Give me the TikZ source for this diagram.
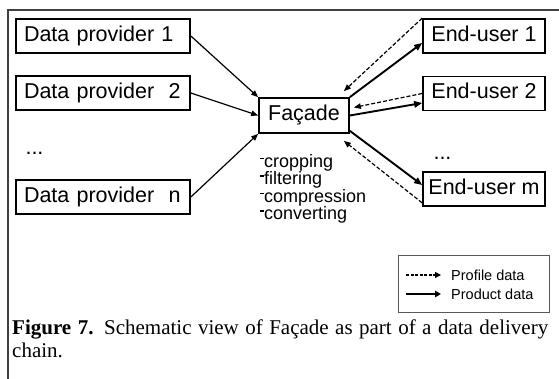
\documentclass[tikz,border=0pt]{standalone}
\usepackage{fontspec}
\setmainfont{Liberation Sans}
\newfontfamily\capfont{Liberation Serif}
\usetikzlibrary{arrows.meta,calc}

% short raised dash used in front of each operation
\newcommand\opdash{\rule[0.45em]{0.22em}{0.08em}}

\tikzset{
  box/.style={draw, line width=1.7pt, minimum height=34pt,
              text height=15.4pt, text depth=4.5pt,
              inner ysep=0pt, font=\fontsize{21.5}{24}\selectfont},
  provbox/.style={box, align=left, inner xsep=8pt, text width=158pt},
  userbox/.style={box, inner xsep=0pt, minimum width=122pt},
  feed/.style={line width=1.2pt, -{Triangle[length=7pt,width=5.5pt]}},
  product/.style={line width=1.9pt, -{Triangle[length=8pt,width=6.5pt]}},
  profile/.style={line width=1.2pt, dash pattern=on 4pt off 2pt,
                  -{Triangle[length=7pt,width=5.5pt]}},
  frameline/.style={draw=black!75, line width=1.5pt},
}

\begin{document}
\begin{tikzpicture}[x=1pt,y=-1pt]
\useasboundingbox (0,0) rectangle (559,379);

% outer frame (top and left edges only)
\draw[frameline] (559,10) -- (8,10) -- (8,379);

% data providers
\node[provbox] (dp1) at (103,36) {Data provider 1};
\node[provbox] (dp2) at (103,93) {Data provider\ \ 2};
\node[anchor=base west, font=\fontsize{21.5}{24}\selectfont] (dpdots) at (22,155) {...};
\node[provbox] (dpn) at (103,197) {Data provider\ \ n};

% facade
\node[box, minimum width=90pt, minimum height=35pt] (fac) at (304,115.5) {Façade};
\node[anchor=north west, align=left, inner sep=0pt,
      font=\fontsize{18}{17.5}\selectfont] (ops) at (260,154)
  {\opdash cropping\\\opdash filtering\\\opdash compression\\\opdash converting};

% end users
\node[userbox] (eu1) at (484,36) {End-user 1};
\node[userbox] (eu2) at (484,93.5) {End-user 2};
\node[anchor=base west, font=\fontsize{21.5}{24}\selectfont] (eudots) at (430,160) {...};
\node[userbox] (eum) at (484,189) {End-user m};

% providers feed the facade
\draw[feed] (dp1.east) -- (fac.north west);
\draw[feed] (dp2.east) -- (fac.west);
\draw[feed] (dpn.east) -- (fac.south west);

% product data out to the end users
\draw[product] (fac.north east) -- ($(eu1.west)+(0,7)$);
\draw[product] (fac.east) -- ($(eu2.west)+(0,9.5)$);
\draw[product] ($(fac.south east)+(0,-3)$) -- ($(eum.west)+(0,-4)$);

% profile data back to the facade
\draw[profile] (eu1.north west) -- ($(fac.north east)+(-6,-6)$);
\draw[profile] (eu2.west) -- ($(fac.east)+(4,-8)$);
\draw[profile] ($(eum.south west)+(0,-4)$) -- ($(fac.south east)+(-6,7)$);

% legend
\node[draw=black!65, line width=1pt, minimum width=151pt, minimum height=57pt]
  (legend) at (474,284) {};
\coordinate (ls1) at ($(legend.west)+(8,-9)$);
\coordinate (le1) at ($(legend.west)+(43,-9)$);
\coordinate (ls2) at ($(legend.west)+(8,10)$);
\coordinate (le2) at ($(legend.west)+(43,10)$);
\draw[line width=1.2pt, dash pattern=on 3pt off 1.5pt,
      -{Triangle[length=6pt,width=6pt]}] (ls1) -- (le1);
\draw[line width=1.9pt, -{Triangle[length=6pt,width=6.5pt]}] (ls2) -- (le2);
\node[anchor=west, font=\fontsize{14.5}{16}\selectfont, inner xsep=0pt]
  (lprof) at ($(le1)+(10,0)$) {Profile data};
\node[anchor=west, font=\fontsize{14.5}{16}\selectfont, inner xsep=0pt]
  (lprod) at ($(le2)+(10,0)$) {Product data};

% caption
\node[anchor=north west, inner sep=0pt, text width=536pt, align=justify,
      font=\capfont\fontsize{21}{23}\selectfont] (cap) at (12,320)
  {\hyphenpenalty=10000 \textbf{Figure 7.} Schematic view of Façade as part of a data delivery chain.};
\end{tikzpicture}
\end{document}
